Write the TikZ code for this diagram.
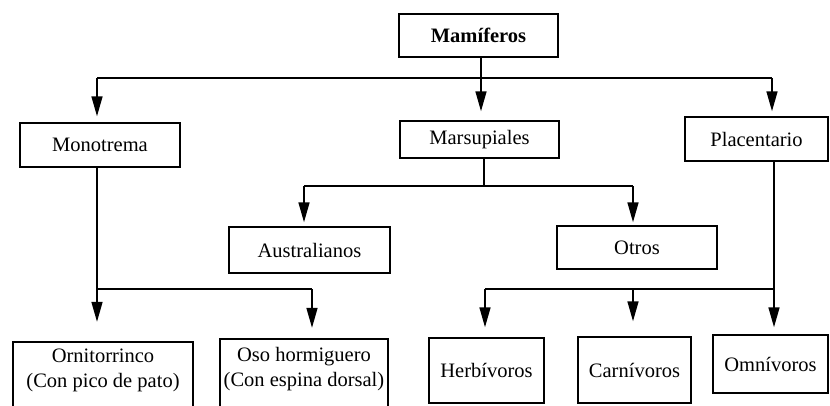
\documentclass[tikz,border=0pt]{standalone}
\usepackage{fontspec}
\setmainfont{Liberation Serif}
\usetikzlibrary{arrows.meta}
\begin{document}
\begin{tikzpicture}[x=1pt,y=-1pt,
  txt/.style={inner sep=0pt, font=\fontsize{20.5}{25}\selectfont, align=center},
  box/.style={txt, draw, line width=1.5pt},
  boxline/.style={line width=1.5pt},
  conn/.style={line width=1.6pt},
  arr/.style={line width=1.6pt, -{Triangle[length=20pt,width=11pt]}}]
\useasboundingbox (0,0) rectangle (830,405);
% nodes
\node[box, minimum width=159pt, minimum height=43pt, font=\fontsize{20.5}{25}\selectfont\bfseries] (mam) at (478.5,35.5) {Mamíferos};
\node[box, minimum width=160pt, minimum height=44pt] (mono) at (100,145) {Monotrema};
\node[box, minimum width=159pt, minimum height=37pt] (mars) at (479.5,139.5) {Marsupiales};
\node[box, minimum width=143pt, minimum height=44pt] (plac) at (756.5,139) {Placentario};
\node[box, minimum width=161pt, minimum height=46pt] (aus) at (309.5,250) {Australianos};
\node[box, minimum width=160pt, minimum height=43pt] (otros) at (637,247.5) {Otros};
\node[txt, minimum width=180pt, minimum height=56pt] (orn) at (103,370) {Ornitorrinco\\(Con pico de pato)};
\node[txt, minimum width=168pt, minimum height=60pt] (oso) at (304,369) {Oso hormiguero\\(Con espina dorsal)};
\node[box, minimum width=115pt, minimum height=65pt] (herb) at (486.5,370.5) {Herbívoros};
\node[box, minimum width=113pt, minimum height=66pt] (carn) at (634.5,370) {Carnívoros};
\node[box, minimum width=115pt, minimum height=58pt] (omni) at (770.5,364) {Omnívoros};
% open-bottom boxes
\coordinate (bot) at (0,408);
\draw[boxline] (orn.north west |- bot) -- (orn.north west) -- (orn.north east) -- (orn.north east |- bot);
\draw[boxline] (oso.north west |- bot) -- (oso.north west) -- (oso.north east) -- (oso.north east |- bot);
% junction coordinates
\coordinate (jm) at (481,78);
\coordinate (ja) at (97,78);
\coordinate (jb) at (772,78);
\coordinate (jc) at (97,289);
\coordinate (jd) at (312,289);
\coordinate (jg) at (484,186);
\coordinate (je) at (304,186);
\coordinate (jf) at (633,186);
\coordinate (jh) at (485,289);
\coordinate (jj) at (633,289);
\coordinate (ji) at (774,289);
% Mamiferos
\draw[arr, shorten >=9pt] (jm |- mam.south) -- (jm |- mars.north);
\draw[conn] (ja) -- (jb);
\draw[arr, shorten >=6pt] (ja) -- (ja |- mono.north);
\draw[arr, shorten >=5pt] (jb) -- (jb |- plac.north);
% Monotrema
\draw[arr, shorten >=20pt] (jc |- mono.south) -- (jc |- orn.north);
\draw[conn] (jc) -- (jd);
\draw[arr, shorten >=11pt] (jd) -- (jd |- oso.north);
% Marsupiales
\draw[conn] (jg |- mars.south) -- (jg);
\draw[conn] (je) -- (jf);
\draw[arr, shorten >=4pt] (je) -- (je |- aus.north);
\draw[arr, shorten >=3pt] (jf) -- (jf |- otros.north);
% Placentario
\draw[arr, shorten >=7pt] (ji |- plac.south) -- (ji |- omni.north);
\draw[conn] (jh) -- (ji);
\draw[arr, shorten >=10pt] (jh) -- (jh |- herb.north);
\draw[arr, shorten >=15pt] (jj) -- (jj |- carn.north);
\end{tikzpicture}
\end{document}
